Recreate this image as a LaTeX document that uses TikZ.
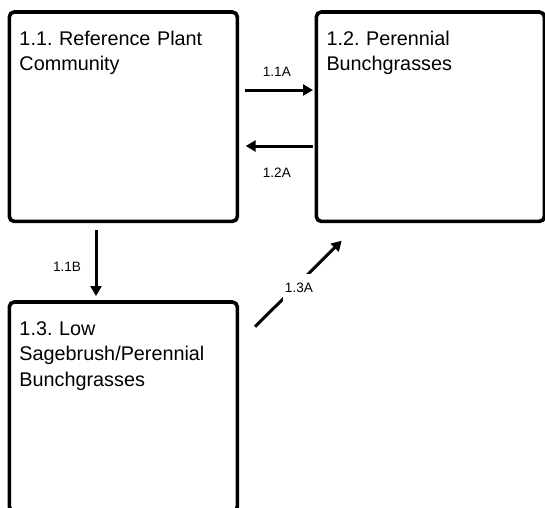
\documentclass[tikz,border=0pt]{standalone}
\usepackage{fontspec}
\setmainfont{Liberation Sans}
\usetikzlibrary{positioning, arrows.meta}

\begin{document}
\frenchspacing
\begin{tikzpicture}[x=1pt, y=1pt,
  state/.style={draw, line width=3.6pt, rounded corners=5pt, outer sep=0pt,
    minimum width=228.1pt, minimum height=209.4pt},
  title/.style={anchor=base west, inner sep=0pt, text width=200pt, align=left,
    font=\fontsize{19.8}{25.6}\selectfont},
  trans/.style={line width=3pt, -{Triangle[length=10pt, width=11pt]}},
  tlabel/.style={font=\fontsize{13.6}{16}\selectfont, inner sep=1pt}]
  \useasboundingbox (0,0) rectangle (545,-507);
  \clip (0,0) rectangle (545,-507);

  \node[state] (s11) at (123.35,-116.7) {};
  \node[state, right=78.9pt of s11] (s12) {};
  \node[state, below=80.6pt of s11] (s13) {};

  \node[title] (t11) at ([xshift=10pt, yshift=-33pt]s11.north west) {1.1. Reference Plant\\Community};
  \node[title] (t12) at ([xshift=10pt, yshift=-33pt]s12.north west) {1.2. Perennial\\Bunchgrasses};
  \node[title] (t13) at ([xshift=10pt, yshift=-33pt]s13.north west) {1.3. Low\\Sagebrush/Perennial\\Bunchgrasses};

  \draw[trans, shorten <=7.6pt, shorten >=3.3pt] ([yshift=26.7pt]s11.east)
    -- node[tlabel, yshift=18.3pt] (l11a) {1.1A} ([yshift=26.7pt]s12.west);
  \draw[trans, shorten <=3.3pt, shorten >=8.3pt] ([yshift=-29.3pt]s12.west)
    -- node[tlabel, yshift=-27pt] (l12a) {1.2A} ([yshift=-29.3pt]s11.east);
  \draw[trans, shorten <=8.6pt, shorten >=6pt] ([xshift=-27.35pt]s11.south)
    -- node[tlabel, pos=0.566, xshift=-29pt] (l11b) {1.1B} ([xshift=-27.35pt]s13.north);
  \draw[trans] ([xshift=17.6pt, yshift=-24.7pt]s13.north east)
    -- node[tlabel, fill=white, inner xsep=1.5pt, inner ysep=9pt, xshift=0.6pt, yshift=-4pt] (l13a) {1.3A}
    ([xshift=25.4pt, yshift=-19.3pt]s12.south west);
\end{tikzpicture}
\end{document}
